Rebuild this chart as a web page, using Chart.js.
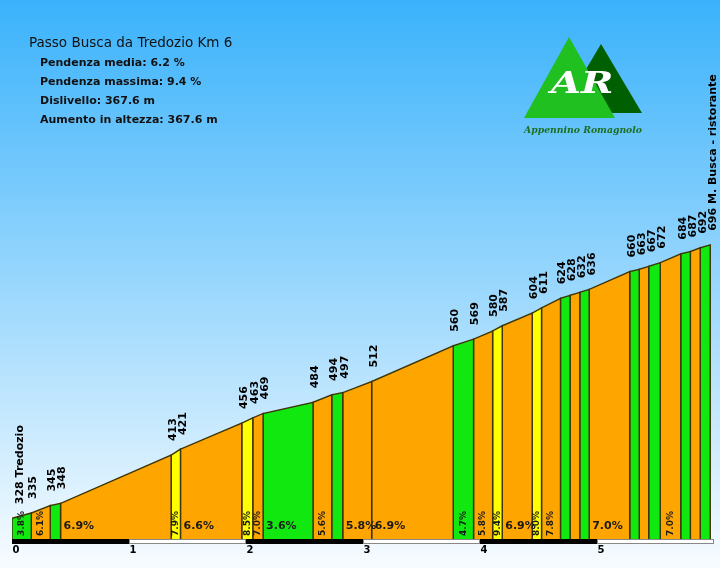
<!DOCTYPE html>
<html>
<head>
<meta charset="utf-8">
<script src="https://cdn.jsdelivr.net/npm/chart.js@4.4.0/dist/chart.umd.min.js"></script>
<style>
  html, body { margin: 0; padding: 0; background: #fff; }
  canvas { display: block; }
</style>
</head>
<body>
<canvas id="profilo" width="720" height="568"></canvas>
<script>
// punti del profilo: km progressivi e quote (m)
const distanze = [0, 0.165, 0.327, 0.415, 1.36, 1.44, 1.964, 2.058, 2.146, 2.573, 2.733, 2.827, 3.074,
  3.771, 3.945, 4.108, 4.19, 4.446, 4.526, 4.688, 4.77, 4.853, 4.933, 5.28, 5.361, 5.442, 5.541,
  5.716, 5.798, 5.882, 5.968];
const quote = [328, 335, 345, 348, 413, 421, 456, 463, 469, 484, 494, 497, 512, 560, 569, 580, 587,
  604, 611, 624, 628, 632, 636, 660, 663, 667, 672, 684, 687, 692, 696];
// pendenza di ogni tratto (%)
const pendenze = [3.8, 6.1, 3.4, 6.9, 7.9, 6.6, 8.5, 7.0, 3.6, 5.6, 3.2, 5.8, 6.9, 4.7, 5.8, 9.4,
  6.9, 8.0, 7.8, 4.9, 5.2, 4.9, 7.0, 3.7, 5.0, 4.8, 7.0, 3.6, 6.0, 4.7];
const mostraPendenza = [1, 1, 0, 1, 1, 1, 1, 1, 1, 1, 0, 1, 1, 1, 1, 1, 1, 1, 1, 0, 0, 0, 1, 0, 0, 0,
  1, 0, 0, 0];
const nomeInizio = "Tredozio";
const nomeFine = "M. Busca - ristorante";
const kmTicks = [0, 1, 2, 3, 4, 5, 6];
const quotaBase = 300;
const quotaMax = 1000;

const titolo = "Passo Busca da Tredozio Km 6";
const info = [
  "Pendenza media: 6.2 %",
  "Pendenza massima: 9.4 %",
  "Dislivello: 367.6 m",
  "Aumento in altezza: 367.6 m"
];

function coloreSalita(p) {
  if (p < 5) return "#10e810";
  if (p < 7.9) return "#ffa500";
  return "#ffff00";
}

const datasets = [];
for (let i = 0; i < pendenze.length; i++) {
  datasets.push({
    data: [
      { x: distanze[i], y: quotaBase },
      { x: distanze[i], y: quote[i] },
      { x: distanze[i + 1], y: quote[i + 1] },
      { x: distanze[i + 1], y: quotaBase }
    ],
    fill: "start",
    backgroundColor: coloreSalita(pendenze[i]),
    borderColor: "#3d3508",
    borderWidth: 1.4,
    pointRadius: 0,
    tension: 0
  });
}

const sfondo = {
  id: "sfondo",
  beforeDraw(chart) {
    const ctx = chart.ctx;
    const g = ctx.createLinearGradient(0, 0, 0, chart.height);
    g.addColorStop(0, "#3ab2fb");
    g.addColorStop(1, "#f8fcff");
    ctx.save();
    ctx.fillStyle = g;
    ctx.fillRect(0, 0, chart.width, chart.height);

    ctx.fillStyle = "#111";
    ctx.font = "13.5px 'DejaVu Sans'";
    ctx.fillText(titolo, 29, 47);
    ctx.font = "bold 11px 'DejaVu Sans'";
    info.forEach((r, i) => ctx.fillText(r, 40, 66 + i * 19));

    // logo
    ctx.fillStyle = "#005f00";
    ctx.beginPath();
    ctx.moveTo(601, 44); ctx.lineTo(642, 113); ctx.lineTo(560, 113); ctx.closePath();
    ctx.fill();
    ctx.fillStyle = "#20c020";
    ctx.beginPath();
    ctx.moveTo(569, 37); ctx.lineTo(615, 118); ctx.lineTo(524, 118); ctx.closePath();
    ctx.fill();
    ctx.save();
    ctx.translate(582, 93);
    ctx.scale(1.3, 1);
    ctx.fillStyle = "#fff";
    ctx.textAlign = "center";
    ctx.font = "italic bold 30px 'DejaVu Serif'";
    ctx.fillText("AR", 0, 0);
    ctx.restore();
    ctx.fillStyle = "#1e6e1e";
    ctx.font = "italic bold 10px 'DejaVu Serif'";
    ctx.fillText("Appennino Romagnolo", 524, 133, 118);
    ctx.restore();
  }
};

const etichette = {
  id: "etichette",
  afterDatasetsDraw(chart) {
    const ctx = chart.ctx;
    const sx = chart.scales.x;
    const sy = chart.scales.y;
    const fondo = sy.getPixelForValue(quotaBase);
    ctx.save();

    // pendenze
    ctx.fillStyle = "#1a1a1a";
    for (let i = 0; i < pendenze.length; i++) {
      if (!mostraPendenza[i]) continue;
      const x0 = sx.getPixelForValue(distanze[i]);
      const x1 = sx.getPixelForValue(distanze[i + 1]);
      const testo = pendenze[i].toFixed(1) + "%";
      if (x1 - x0 >= 25) {
        ctx.font = "bold 11px 'DejaVu Sans'";
        ctx.textAlign = "left";
        ctx.textBaseline = "alphabetic";
        ctx.fillText(testo, x0 + 3, fondo - 10);
      } else {
        ctx.font = "bold 9px 'DejaVu Sans'";
        ctx.save();
        ctx.translate((x0 + x1) / 2, fondo - 3);
        ctx.rotate(-Math.PI / 2);
        ctx.textAlign = "left";
        ctx.textBaseline = "middle";
        ctx.fillText(testo, 0, 0);
        ctx.restore();
      }
    }

    // quote
    ctx.fillStyle = "#000";
    ctx.font = "bold 11px 'DejaVu Sans'";
    let ultimoX = -100;
    for (let i = 0; i < quote.length; i++) {
      const px = sx.getPixelForValue(distanze[i]);
      const py = sy.getPixelForValue(quote[i]);
      const lx = Math.max(px + 2, ultimoX + 10, 20);
      ultimoX = lx;
      let testo = String(quote[i]);
      if (i === 0) testo += " " + nomeInizio;
      if (i === quote.length - 1) testo += " " + nomeFine;
      ctx.save();
      ctx.translate(lx, py - 14);
      ctx.rotate(-Math.PI / 2);
      ctx.textAlign = "left";
      ctx.textBaseline = "middle";
      ctx.fillText(testo, 0, 0);
      ctx.restore();
    }

    // barra chilometrica
    for (let k = 0; k < kmTicks.length - 1; k++) {
      const x0 = sx.getPixelForValue(kmTicks[k]);
      const x1 = sx.getPixelForValue(kmTicks[k + 1]);
      if (k % 2 === 0) {
        ctx.fillStyle = "#000";
        ctx.fillRect(x0, fondo, x1 - x0, 5);
      } else {
        ctx.fillStyle = "#fff";
        ctx.fillRect(x0, fondo, x1 - x0, 5);
        ctx.strokeStyle = "#888";
        ctx.lineWidth = 1;
        ctx.strokeRect(x0 + 0.5, fondo + 0.5, x1 - x0 - 1, 4);
      }
    }
    ctx.fillStyle = "#000";
    ctx.font = "bold 10px 'DejaVu Sans'";
    ctx.textAlign = "left";
    ctx.textBaseline = "alphabetic";
    for (let k = 0; k < kmTicks.length - 1; k++) {
      ctx.fillText(String(kmTicks[k]), sx.getPixelForValue(kmTicks[k]) + 0.5, fondo + 14);
    }
    ctx.restore();
  }
};

new Chart(document.getElementById("profilo"), {
  type: "line",
  data: { datasets: datasets },
  options: {
    responsive: false,
    animation: false,
    devicePixelRatio: 1,
    layout: { padding: { left: 12, right: 6, top: 19, bottom: 29 } },
    scales: {
      x: { type: "linear", min: kmTicks[0], max: kmTicks[kmTicks.length - 1], display: false },
      y: { min: quotaBase, max: quotaMax, display: false }
    },
    plugins: {
      legend: { display: false },
      tooltip: { enabled: false }
    }
  },
  plugins: [sfondo, etichette]
});
</script>
</body>
</html>
